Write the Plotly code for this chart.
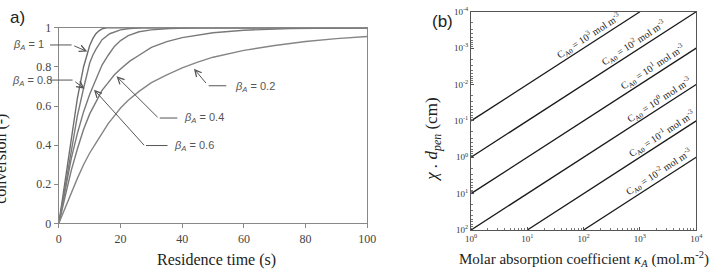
import math
import plotly.graph_objects as go

W, H = 715, 274

# ---------------- Panel (a) data: conversion vs residence time ----------------
beta_labels = ["1", "0.8", "0.6", "0.4", "0.2"]
t_b10 = [0, 2, 4, 6, 8, 9, 10, 11, 12, 13, 14, 15.5, 100]
x_b10 = [0, 0.22, 0.44, 0.64, 0.80, 0.86, 0.91, 0.945, 0.97, 0.985, 0.995, 1.0, 1.0]
t_b08 = [0, 2, 4, 6, 8, 10, 11, 12, 14, 16.5, 20, 23, 27, 100]
x_b08 = [0, 0.19, 0.38, 0.55, 0.69, 0.82, 0.86, 0.89, 0.94, 0.97, 0.99, 0.997, 1.0, 1.0]
t_b06 = [0, 2, 4, 6, 8, 10, 12, 14, 16, 18, 20, 22.5, 26, 30, 36, 45, 100]
x_b06 = [0, 0.17, 0.33, 0.46, 0.57, 0.66, 0.74, 0.81, 0.86, 0.905, 0.935, 0.96, 0.98, 0.99, 0.997, 1.0, 1.0]
t_b04 = [0, 2, 4, 6, 8, 10, 12, 14, 16, 18, 20, 23, 26, 30, 35, 40, 50, 60, 75, 100]
x_b04 = [0, 0.14, 0.27, 0.38, 0.48, 0.56, 0.62, 0.68, 0.72, 0.76, 0.79, 0.83, 0.86, 0.90, 0.93, 0.95, 0.975, 0.988, 0.996, 1.0]
t_b02 = [0, 2, 4, 6, 8, 10, 12, 14, 16, 18, 20, 22.5, 26, 30, 35, 40, 45, 50, 60, 70, 80, 90, 100]
x_b02 = [0, 0.08, 0.16, 0.23, 0.30, 0.36, 0.41, 0.46, 0.51, 0.55, 0.59, 0.63, 0.675, 0.72, 0.76, 0.795, 0.825, 0.85, 0.885, 0.91, 0.93, 0.945, 0.956]

a_xticks = [0, 20, 40, 60, 80, 100]
a_yticks = [0, 0.2, 0.4, 0.6, 0.8, 1]
a_yticktext = ["0", "0.2", "0.4", "0.6", "0.8", "1"]

# ---------------- Panel (b) data: chi.d_pen vs kappa_A ----------------
conc_exp = ["3", "2", "1", "0", "-1", "-2"]
kappa_start = [1, 1, 1, 1, 10, 100]
chi_start = [0.1, 1, 10, 100, 100, 100]
kappa_end = [1000, 1e4, 1e4, 1e4, 1e4, 1e4]
chi_end = [1e-4, 1e-4, 1e-3, 1e-2, 1e-1, 1]
label_logk = [2.09, 2.89, 3.23, 3.34, 3.39, 3.34]

b_xticks = [1, 10, 100, 1000, 10000]
b_xticktext = ["10<sup>0</sup>", "10<sup>1</sup>", "10<sup>2</sup>", "10<sup>3</sup>", "10<sup>4</sup>"]
b_yticks = [1e-4, 1e-3, 1e-2, 1e-1, 1, 10, 100]
b_yticktext = ["10<sup>-4</sup>", "10<sup>-3</sup>", "10<sup>-2</sup>", "10<sup>-1</sup>",
               "10<sup>0</sup>", "10<sup>1</sup>", "10<sup>2</sup>"]


def P(px, py):
    return px / W, 1 - py / H


fig = go.Figure()

curve_colors = ["#6e6e6e", "#7a7a7a", "#7a7a7a", "#7a7a7a", "#858585"]
for t, xv, c in zip([t_b10, t_b08, t_b06, t_b04, t_b02],
                    [x_b10, x_b08, x_b06, x_b04, x_b02], curve_colors):
    fig.add_trace(go.Scatter(x=t, y=xv, mode="lines", xaxis="x", yaxis="y",
                             line=dict(color=c, width=1.4), showlegend=False,
                             hoverinfo="skip"))

for k0, c0, k1, c1 in zip(kappa_start, chi_start, kappa_end, chi_end):
    fig.add_trace(go.Scatter(x=[k0, k1], y=[c0, c1], mode="lines", xaxis="x2", yaxis="y2",
                             line=dict(color="#1a1a1a", width=1.3), showlegend=False,
                             hoverinfo="skip"))

serif = "Liberation Serif"
sans = "Liberation Sans"

minor_x = [m * 10 ** k for k in range(0, 4) for m in range(2, 10)]
minor_y = [m * 10.0 ** k for k in range(-4, 2) for m in range(2, 10)]

fig.update_layout(
    width=W, height=H, margin=dict(l=0, r=0, t=0, b=0),
    paper_bgcolor="white", plot_bgcolor="white", showlegend=False,
    xaxis=dict(domain=[54 / W, 369 / W], range=[0, 100], anchor="y",
               tickvals=a_xticks, ticks="outside", ticklen=4, tickcolor="#888",
               showline=True, linecolor="#888", linewidth=1.2, mirror=True,
               showgrid=False, zeroline=False,
               tickfont=dict(family=serif, size=12, color="#444")),
    yaxis=dict(domain=[1 - 228 / H, 1 - 22 / H], range=[0, 1], anchor="x",
               tickvals=a_yticks, ticktext=a_yticktext, ticks="outside", ticklen=4,
               tickcolor="#888", showline=True, linecolor="#888", linewidth=1.2,
               mirror=True, showgrid=False, zeroline=False,
               tickfont=dict(family=serif, size=12, color="#444")),
    xaxis2=dict(domain=[475 / W, 705 / W], type="log", range=[0, 4], anchor="y2",
                tickvals=b_xticks, ticktext=b_xticktext, ticks="inside", ticklen=3,
                tickcolor="#555", showline=True, linecolor="#555", linewidth=1.2,
                mirror=True, showgrid=False, zeroline=False,
                minor=dict(tickmode="array", tickvals=minor_x, ticks="inside",
                           ticklen=2, tickcolor="#777", showgrid=False),
                tickfont=dict(family=serif, size=9, color="#333")),
    yaxis2=dict(domain=[1 - 235 / H, 1 - 5 / H], type="log", range=[2, -4], anchor="x2",
                tickvals=b_yticks, ticktext=b_yticktext, ticks="inside", ticklen=3,
                tickcolor="#555", showline=True, linecolor="#555", linewidth=1.2,
                mirror=True, showgrid=False, zeroline=False,
                minor=dict(tickmode="array", tickvals=minor_y, ticks="inside",
                           ticklen=2, tickcolor="#777", showgrid=False),
                tickfont=dict(family=serif, size=9, color="#333")),
)

ann = []
shapes = []

# Panel (a) leader lines: text px, anchor, horizontal segment px, bend px, tip (data)
leaders = [
    ((5, 40), "left", (45, 67, 40), (67, 40), (9.2, 0.879)),
    ((4, 78), "left", (45, 68, 77), (68, 77), (8.3, 0.689)),
    ((170, 146), "left", (143, 165, 146), (143, 146), (11.4, 0.684)),
    ((180, 117), "left", (157, 175, 117), (157, 117), (18.7, 0.752)),
    ((232, 84), "left", (207, 225, 83), (207, 83), (43.8, 0.791)),
]
for (tp, anc, hs, bend, tip), lab in zip(leaders, beta_labels):
    x0, y0 = P(hs[0], hs[2])
    x1, y1 = P(hs[1], hs[2])
    shapes.append(dict(type="line", xref="paper", yref="paper", x0=x0, y0=y0, x1=x1, y1=y1,
                       line=dict(color="#555", width=1)))
    tip_px = (54 + tip[0] * 3.15, 228 - tip[1] * 206)
    ann.append(dict(x=tip[0], y=tip[1], xref="x", yref="y", text=" ", showarrow=True,
                    axref="pixel", ayref="pixel",
                    ax=bend[0] - tip_px[0], ay=bend[1] - tip_px[1],
                    arrowhead=5, arrowsize=1.3, arrowwidth=1, arrowcolor="#555"))
    tx, ty = P(*tp)
    ann.append(dict(x=tx, y=ty, xref="paper", yref="paper", xanchor=anc, yanchor="middle",
                    text="<i>β<sub>A</sub></i> = " + lab, showarrow=False,
                    font=dict(family=sans, size=11, color="#555")))

# Panel (b) line labels
for e, lk, k0, c0, k1, c1 in zip(conc_exp, label_logk, kappa_start, chi_start, kappa_end, chi_end):
    slope = (math.log10(c1) - math.log10(c0)) / (math.log10(k1) - math.log10(k0))
    ly = math.log10(c0) + slope * (lk - math.log10(k0))
    ann.append(dict(x=lk, y=ly, xref="x2", yref="y2", showarrow=False, textangle=-33,
                    yshift=9, xanchor="center", yanchor="middle",
                    text="C<sub>A0</sub> = 10<sup>" + e + "</sup> mol m<sup>-3</sup>",
                    font=dict(family=serif, size=10, color="#222")))


def txt(px, py, text, size, family, angle=0, color="#222", xshift=0):
    x, y = P(px, py)
    ann.append(dict(x=x, y=y, xref="paper", yref="paper", text=text, showarrow=False,
                    xanchor="center", yanchor="middle", textangle=angle, xshift=xshift,
                    font=dict(family=family, size=size, color=color)))


txt(12, 11, "a)", 17, sans)
txt(446, 15, "(b)", 17, sans)
txt(215, 267, "Residence time (s)", 16, serif)
txt(2, 160, "conversion (-)", 16, serif, angle=-90, xshift=-7)
txt(436, 140, "<i>χ . d<sub>pen</sub></i> (cm)", 17, serif, angle=-90)
txt(590, 266, "Molar absorption coefficient <i>κ<sub>A</sub></i> (mol.m<sup>-2</sup>)", 15, serif)

fig.update_layout(annotations=ann, shapes=shapes)
fig.write_html("out.html")
